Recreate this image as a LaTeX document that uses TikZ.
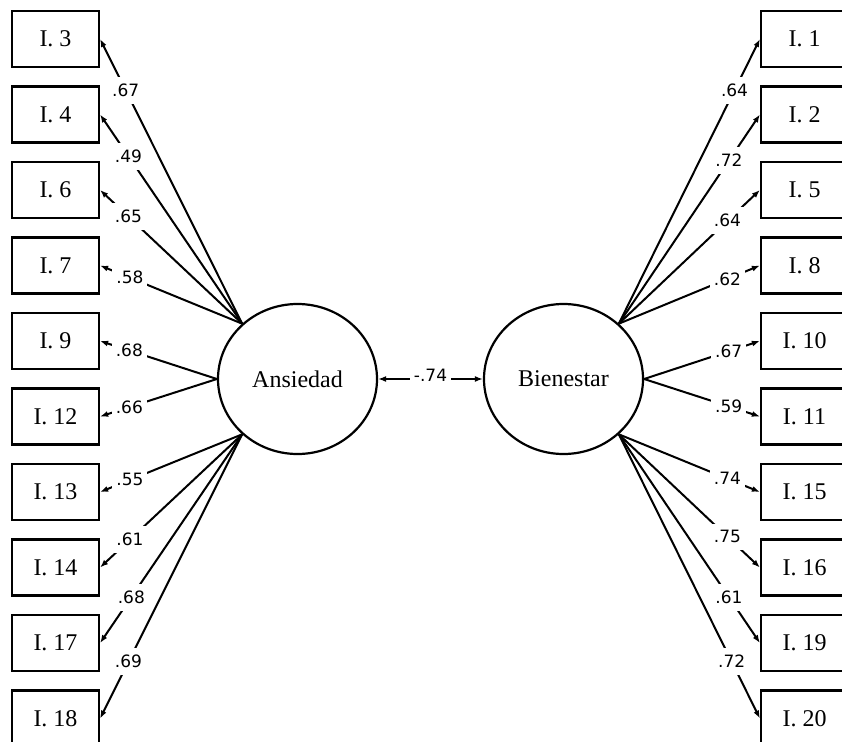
\documentclass[tikz,border=0pt]{standalone}
\usepackage{fontspec}
\setmainfont{Liberation Serif}
\newfontfamily\coeffont{DejaVu Sans}
\usetikzlibrary{arrows.meta,shapes.geometric}

\tikzset{
  itembox/.style={draw,line width=2.2pt,minimum width=87pt,minimum height=56pt,
    inner sep=0pt,font=\fontsize{24}{26}\selectfont},
  factor/.style={draw,ellipse,line width=2.2pt,minimum width=159pt,minimum height=150pt,
    inner sep=0pt,font=\fontsize{24}{26}\selectfont},
  load/.style={line width=2pt,-{Latex[length=8pt,width=6pt]}},
  coef/.style={fill=white,inner xsep=4pt,inner ysep=7pt,
    font=\coeffont\fontsize{17}{18}\selectfont},
}

\begin{document}
\begin{tikzpicture}[x=1pt,y=-1pt]
  % 項目の縦間隔
  \def\BoxDy{75.5}
  \useasboundingbox (0,0) rectangle (842,741);
  \clip (0,0) rectangle (842,741);

  % 潜在因子
  \node[factor] (ans) at (297.5,379) {Ansiedad};
  \node[factor] (bie) at (563.5,379) {Bienestar};
  \draw[load,{Latex[length=8pt,width=6pt]}-{Latex[length=8pt,width=6pt]}]
    (ans) -- node[coef,yshift=4pt]{-.74} (bie);

  % 左側の項目 (Ansiedad)
  \foreach \n/\lab/\ang/\lpos [count=\i from 0] in
    {3/.67/135/.82, 4/.49/135/.8, 6/.65/135/.8, 7/.58/135/.79, 9/.68/180/.75,
     12/.66/180/.75, 13/.55/225/.79, 14/.61/225/.79, 17/.68/225/.78, 18/.69/225/.8} {
    \node[itembox] (a\n) at (55.5,39+\i*\BoxDy) {I. \n};
    \draw[load] (ans.\ang) -- node[coef,pos=\lpos]{\lab} (a\n.east);
  }

  % 右側の項目 (Bienestar)
  \foreach \n/\lab/\ang/\lpos [count=\i from 0] in
    {1/.64/45/.82, 2/.72/45/.78, 5/.64/45/.77, 8/.62/45/.77, 10/.67/0/.73,
     11/.59/0/.73, 15/.74/-45/.77, 16/.75/-45/.77, 19/.61/-45/.78, 20/.72/-45/.8} {
    \node[itembox] (b\n) at (804.5,39+\i*\BoxDy) {I. \n};
    \draw[load] (bie.\ang) -- node[coef,pos=\lpos]{\lab} (b\n.west);
  }
\end{tikzpicture}
\end{document}
